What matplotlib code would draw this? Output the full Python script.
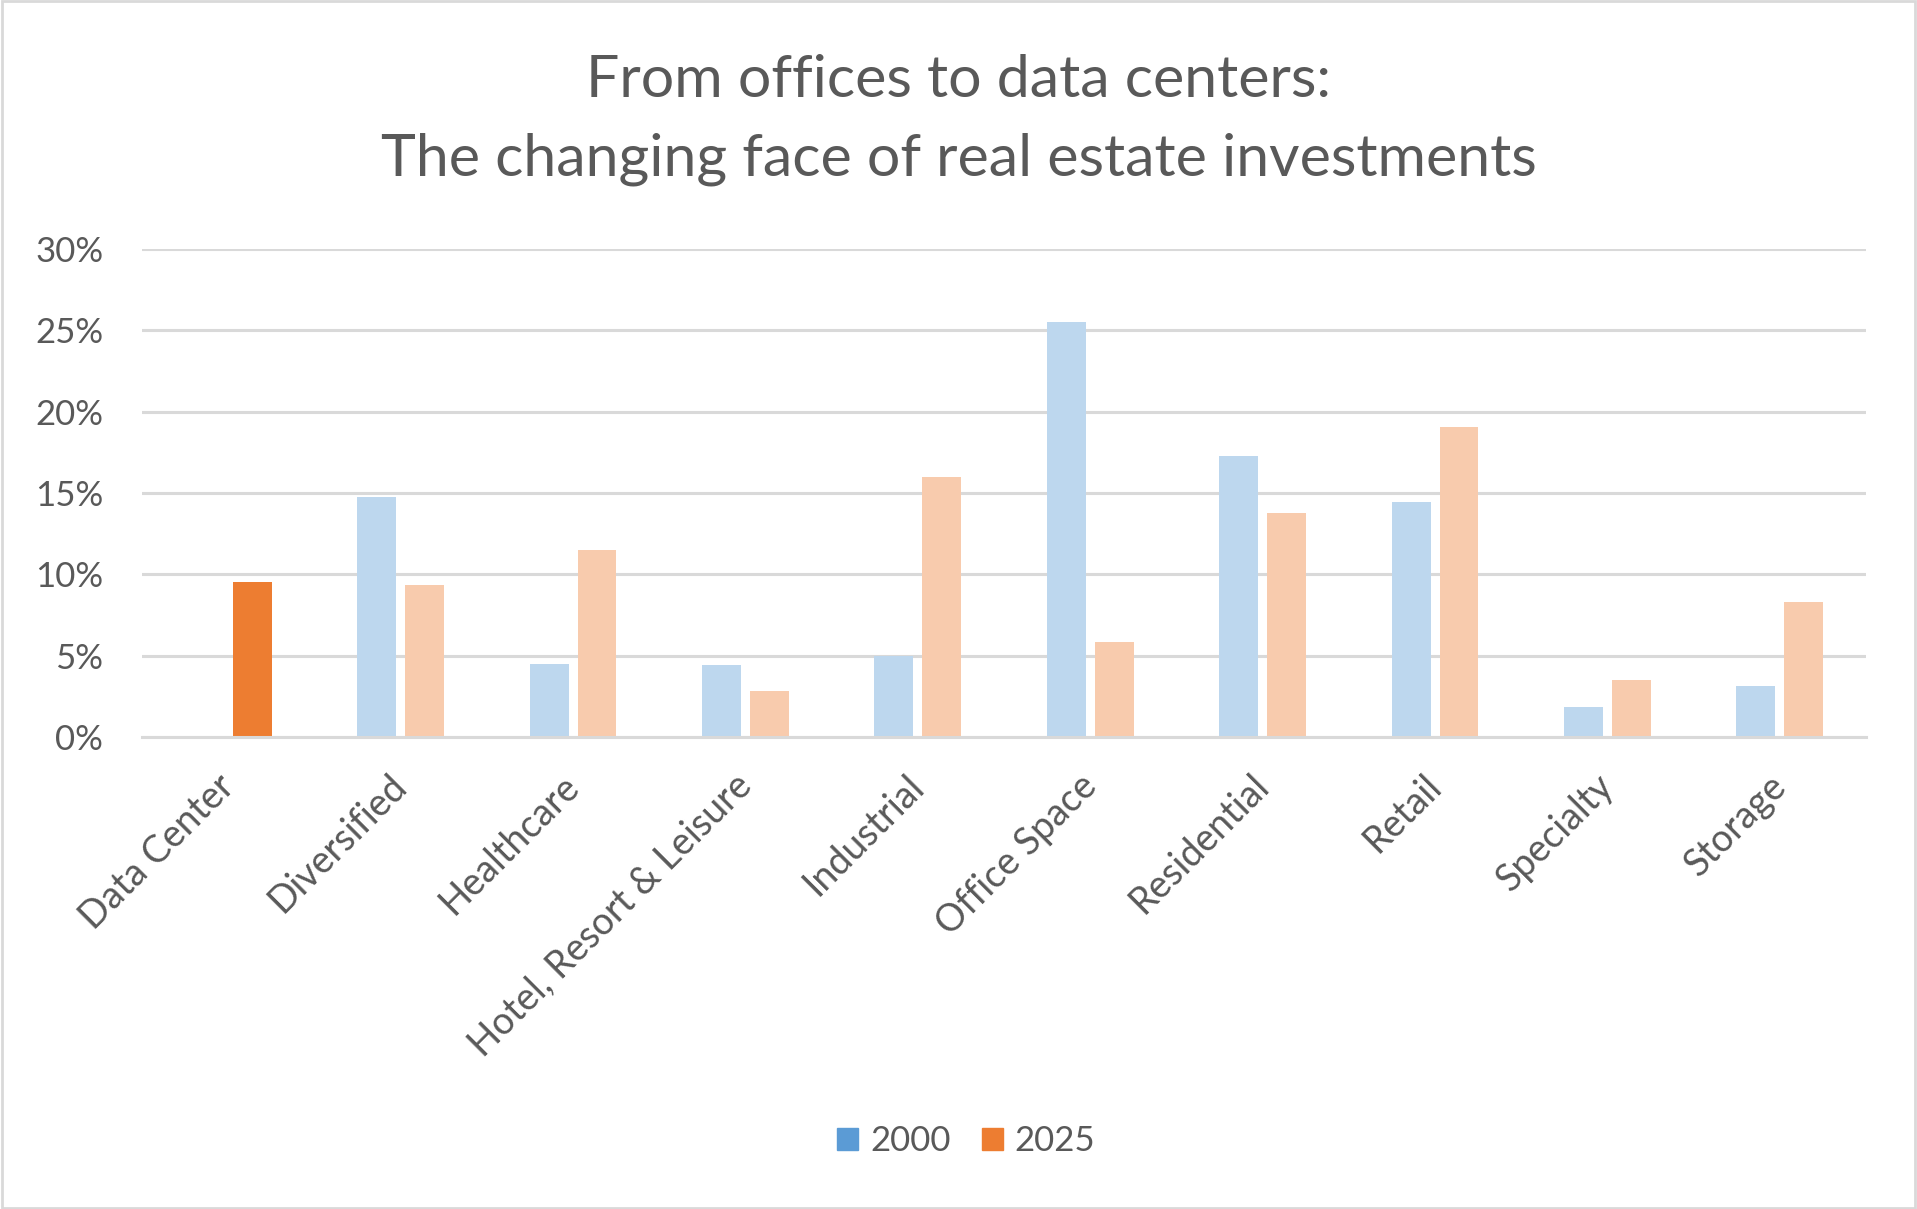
import numpy as np
import matplotlib
matplotlib.use('Agg')
import matplotlib.pyplot as plt
import matplotlib.transforms as mtransforms
from matplotlib.patches import Patch, Rectangle
from matplotlib.ticker import PercentFormatter

# shares by sector, 2000 vs 2025
sectors = ['Data Center', 'Diversified', 'Healthcare', 'Hotel, Resort & Leisure',
           'Industrial', 'Office Space', 'Residential', 'Retail', 'Specialty', 'Storage']
share_2000 = [0.0, 14.77, 4.48, 4.42, 4.97, 25.53, 17.29, 14.46, 1.83, 3.12]
share_2025 = [9.50, 9.35, 11.51, 2.81, 16.00, 5.85, 13.78, 19.07, 3.49, 8.30]
highlight = 'Data Center'
series_names = ['2000', '2025']

plt.rcParams['font.family'] = ['Lato', 'DejaVu Sans']
text_col = '#595959'
grid_col = '#D9D9D9'
blue, orange = '#5B9BD5', '#ED7D31'
light_blue, light_orange = '#BDD7EE', '#F8CBAD'

fig = plt.figure(figsize=(19.17, 12.09), dpi=100)
ax = fig.add_axes([0.0741, 0.3904, 0.8993, 0.4036])

x = np.arange(len(sectors))
w = 0.226
off = 0.139

c2000 = [blue if s == highlight else light_blue for s in sectors]
c2025 = [orange if s == highlight else light_orange for s in sectors]

ax.bar(x - off, share_2000, w, color=c2000, zorder=3)
ax.bar(x + off, share_2025, w, color=c2025, zorder=3)

ax.set_xlim(-0.5, len(sectors) - 0.5)
ax.set_ylim(0, 30)
ax.set_yticks(np.arange(0, 31, 5))
ax.yaxis.set_major_formatter(PercentFormatter(decimals=0))
ax.grid(axis='y', color=grid_col, linewidth=2.2, zorder=0)
ax.set_axisbelow(True)

for s in ['top', 'right', 'left']:
    ax.spines[s].set_visible(False)
ax.spines['bottom'].set_color(grid_col)
ax.spines['bottom'].set_linewidth(2.2)
ax.spines['bottom'].set_zorder(4)

ax.set_xticks(x)
ax.set_xticklabels(sectors, rotation=45, ha='right', va='top', rotation_mode='anchor')
ax.tick_params(axis='x', length=0, pad=22, labelsize=27, labelcolor=text_col)
ax.tick_params(axis='y', length=0, pad=28, labelsize=25, labelcolor=text_col)
shift = mtransforms.ScaledTranslation(-0.12, 0, fig.dpi_scale_trans)
for lab in ax.get_xticklabels():
    lab.set_transform(lab.get_transform() + shift)

fig.text(0.5, 0.901, 'From offices to data centers:\nThe changing face of real estate investments',
         ha='center', va='center', fontsize=42.5, color=text_col, linespacing=1.6)

handles = [Patch(color=blue), Patch(color=orange)]
fig.legend(handles, series_names, loc='center', bbox_to_anchor=(0.504, 0.056), ncol=2,
           frameon=False, fontsize=25, labelcolor=text_col, handlelength=0.6,
           handleheight=0.6, handletextpad=0.35, columnspacing=0.9)

# light outer border like the chart frame
fig.patches.append(Rectangle((0.001, 0.001), 0.998, 0.998, transform=fig.transFigure,
                             fill=False, edgecolor=grid_col, linewidth=2))

fig.savefig('out.png', dpi=100)
